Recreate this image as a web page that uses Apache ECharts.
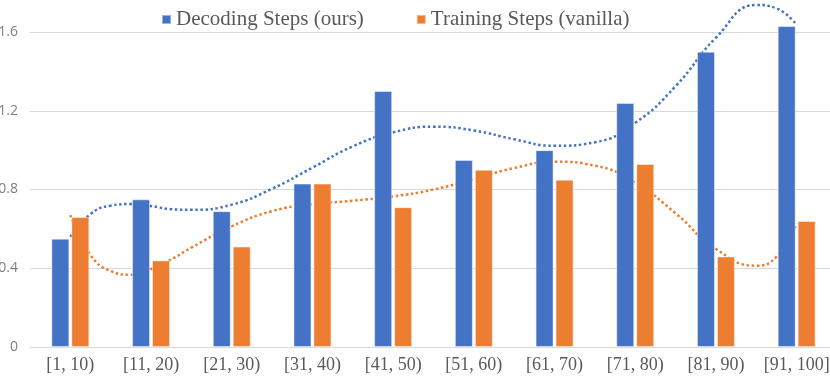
<!DOCTYPE html>
<html>
<head>
<meta charset="utf-8">
<script src="https://cdn.jsdelivr.net/npm/echarts@6/dist/echarts.min.js"></script>
<style>
  html, body { margin: 0; padding: 0; background: #fff; }
  #chart { width: 830px; height: 376px; }
</style>
</head>
<body>
<div id="chart"></div>
<script>
const categories = ["[1, 10)", "[11, 20)", "[21, 30)", "[31, 40)", "[41, 50)",
  "[51, 60)", "[61, 70)", "[71, 80)", "[81, 90)", "[91, 100]"];
const decoding = [0.55, 0.75, 0.69, 0.83, 1.30, 0.95, 1.00, 1.24, 1.50, 1.63];
const training = [0.66, 0.44, 0.51, 0.83, 0.71, 0.90, 0.85, 0.93, 0.46, 0.64];

// trend lines, x in category index units
const trendX = [0, 0.25, 0.5, 0.75, 1, 1.25, 1.5, 2, 2.5, 3, 3.5, 4, 4.5, 5, 5.5, 6, 6.5, 7, 7.5, 8, 8.5, 8.75, 9];
const decodingTrend = [0.56, 0.675, 0.718, 0.726, 0.716, 0.70, 0.697, 0.723, 0.804, 0.911, 1.019, 1.09,
  1.119, 1.10, 1.055, 1.022, 1.04, 1.139, 1.325, 1.571, 1.737, 1.72, 1.635];
const trainingTrend = [0.67, 0.467, 0.386, 0.367, 0.396, 0.445, 0.505, 0.613, 0.69, 0.725, 0.743, 0.765,
  0.80, 0.853, 0.909, 0.941, 0.921, 0.834, 0.679, 0.498, 0.413, 0.459, 0.628];

const yTicks = [0, 0.4, 0.8, 1.2, 1.6];

const BLUE = "#4472C4";
const ORANGE = "#ED7D31";
const serif = "Liberation Serif";

const chart = echarts.init(document.getElementById("chart"));

function trendSeries(name, ys, color) {
  return {
    name: name,
    type: "line",
    xAxisIndex: 1,
    data: trendX.map((x, i) => [x, ys[i]]),
    smooth: 0.5,
    symbol: "none",
    clip: false,
    z: 1,
    silent: true,
    lineStyle: { color: color, width: 2.5, type: [2.5, 2.6], cap: "butt" },
  };
}

chart.setOption({
  animation: false,
  textStyle: { fontFamily: serif },
  legend: {
    data: ["Decoding Steps (ours)", "Training Steps (vanilla)"],
    left: 156,
    top: 4,
    icon: "rect",
    itemWidth: 9,
    itemHeight: 9,
    itemGap: 52,
    textStyle: { fontFamily: serif, fontSize: 21, color: "#595959" },
  },
  grid: { left: 30, width: 807, top: 32, bottom: 29, outerBoundsMode: "none", containLabel: false },
  xAxis: [
    {
      type: "category",
      data: categories,
      axisLine: { lineStyle: { color: "#D9D9D9", width: 1 } },
      axisTick: { show: false },
      axisLabel: { interval: 0, fontFamily: serif, fontSize: 18, color: "#595959", margin: 9 },
    },
    { type: "value", min: -0.5, max: 9.5, show: false },
  ],
  yAxis: {
    type: "value",
    min: yTicks[0],
    max: yTicks[yTicks.length - 1],
    interval: 0.4,
    axisLine: { show: false },
    axisTick: { show: false },
    splitLine: { lineStyle: { color: "#D9D9D9", width: 1 } },
    axisLabel: {
      fontFamily: "Open Sans",
      fontSize: 14,
      color: "#7F7F7F",
      margin: 12,
      formatter: (v) => (v === 0 ? "0" : v.toFixed(1)),
    },
  },
  series: [
    {
      name: "Decoding Steps (ours)",
      type: "bar",
      data: decoding,
      barWidth: 18,
      barGap: "11%",
      clip: false,
      z: 2,
      itemStyle: { color: BLUE, borderColor: "rgba(255,255,255,0.45)", borderWidth: 1 },
    },
    {
      name: "Training Steps (vanilla)",
      type: "bar",
      data: training,
      barWidth: 18,
      clip: false,
      z: 2,
      itemStyle: { color: ORANGE, borderColor: "rgba(255,255,255,0.45)", borderWidth: 1 },
    },
    trendSeries("decoding trend", decodingTrend, BLUE),
    trendSeries("training trend", trainingTrend, ORANGE),
  ],
});

window.addEventListener("resize", () => chart.resize());
</script>
</body>
</html>
